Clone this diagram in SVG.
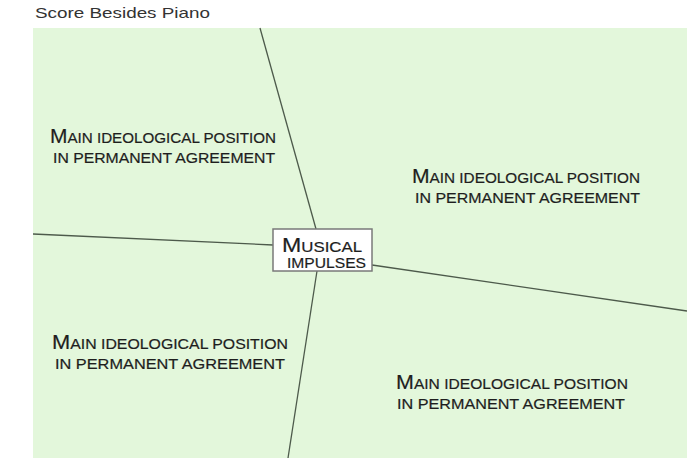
<svg xmlns="http://www.w3.org/2000/svg" width="687" height="458" viewBox="0 0 687 458">
<style>
.t{font-family:"Liberation Sans",Arial,sans-serif;fill:#1e1e1e;font-size:14.5px;stroke:#1e1e1e;stroke-width:0.2}
.big{font-size:20px}
.ln{stroke:#4d5a4b;stroke-width:1.3;fill:none}
</style>
<rect width="687" height="458" fill="#ffffff"/>
<rect x="33" y="28" width="654" height="430" fill="#e3f7db"/>
<text x="35" y="18" textLength="175" lengthAdjust="spacingAndGlyphs" style="font-family:'Liberation Sans',Arial,sans-serif;font-size:14.5px;fill:#333">Score Besides Piano</text>
<g id="connectors">
<line class="ln" x1="260" y1="28" x2="316" y2="229"/>
<line class="ln" x1="33" y1="234" x2="273" y2="245"/>
<line class="ln" x1="372" y1="265" x2="687" y2="311"/>
<line class="ln" x1="317" y1="271" x2="288" y2="458"/>
</g>
<g id="center">
<rect x="273" y="229" width="99" height="42" fill="#ffffff" stroke="#7a7a7a" stroke-width="1.5"/>
<text class="t" x="282" y="252" textLength="80" lengthAdjust="spacingAndGlyphs"><tspan class="big">M</tspan>USICAL</text>
<text class="t" x="287" y="268" textLength="79" lengthAdjust="spacingAndGlyphs">IMPULSES</text>
</g>
<g id="q1">
<text class="t" x="50" y="143" textLength="226" lengthAdjust="spacingAndGlyphs"><tspan class="big">M</tspan>AIN IDEOLOGICAL POSITION</text>
<text class="t" x="53" y="163" textLength="222" lengthAdjust="spacingAndGlyphs">IN PERMANENT AGREEMENT</text>
</g>
<g id="q2">
<text class="t" x="412" y="183" textLength="228" lengthAdjust="spacingAndGlyphs"><tspan class="big">M</tspan>AIN IDEOLOGICAL POSITION</text>
<text class="t" x="415" y="203" textLength="225" lengthAdjust="spacingAndGlyphs">IN PERMANENT AGREEMENT</text>
</g>
<g id="q3">
<text class="t" x="52" y="349" textLength="236" lengthAdjust="spacingAndGlyphs"><tspan class="big">M</tspan>AIN IDEOLOGICAL POSITION</text>
<text class="t" x="55" y="369" textLength="230" lengthAdjust="spacingAndGlyphs">IN PERMANENT AGREEMENT</text>
</g>
<g id="q4">
<text class="t" x="396" y="389" textLength="232" lengthAdjust="spacingAndGlyphs"><tspan class="big">M</tspan>AIN IDEOLOGICAL POSITION</text>
<text class="t" x="397" y="409" textLength="228" lengthAdjust="spacingAndGlyphs">IN PERMANENT AGREEMENT</text>
</g>
</svg>
